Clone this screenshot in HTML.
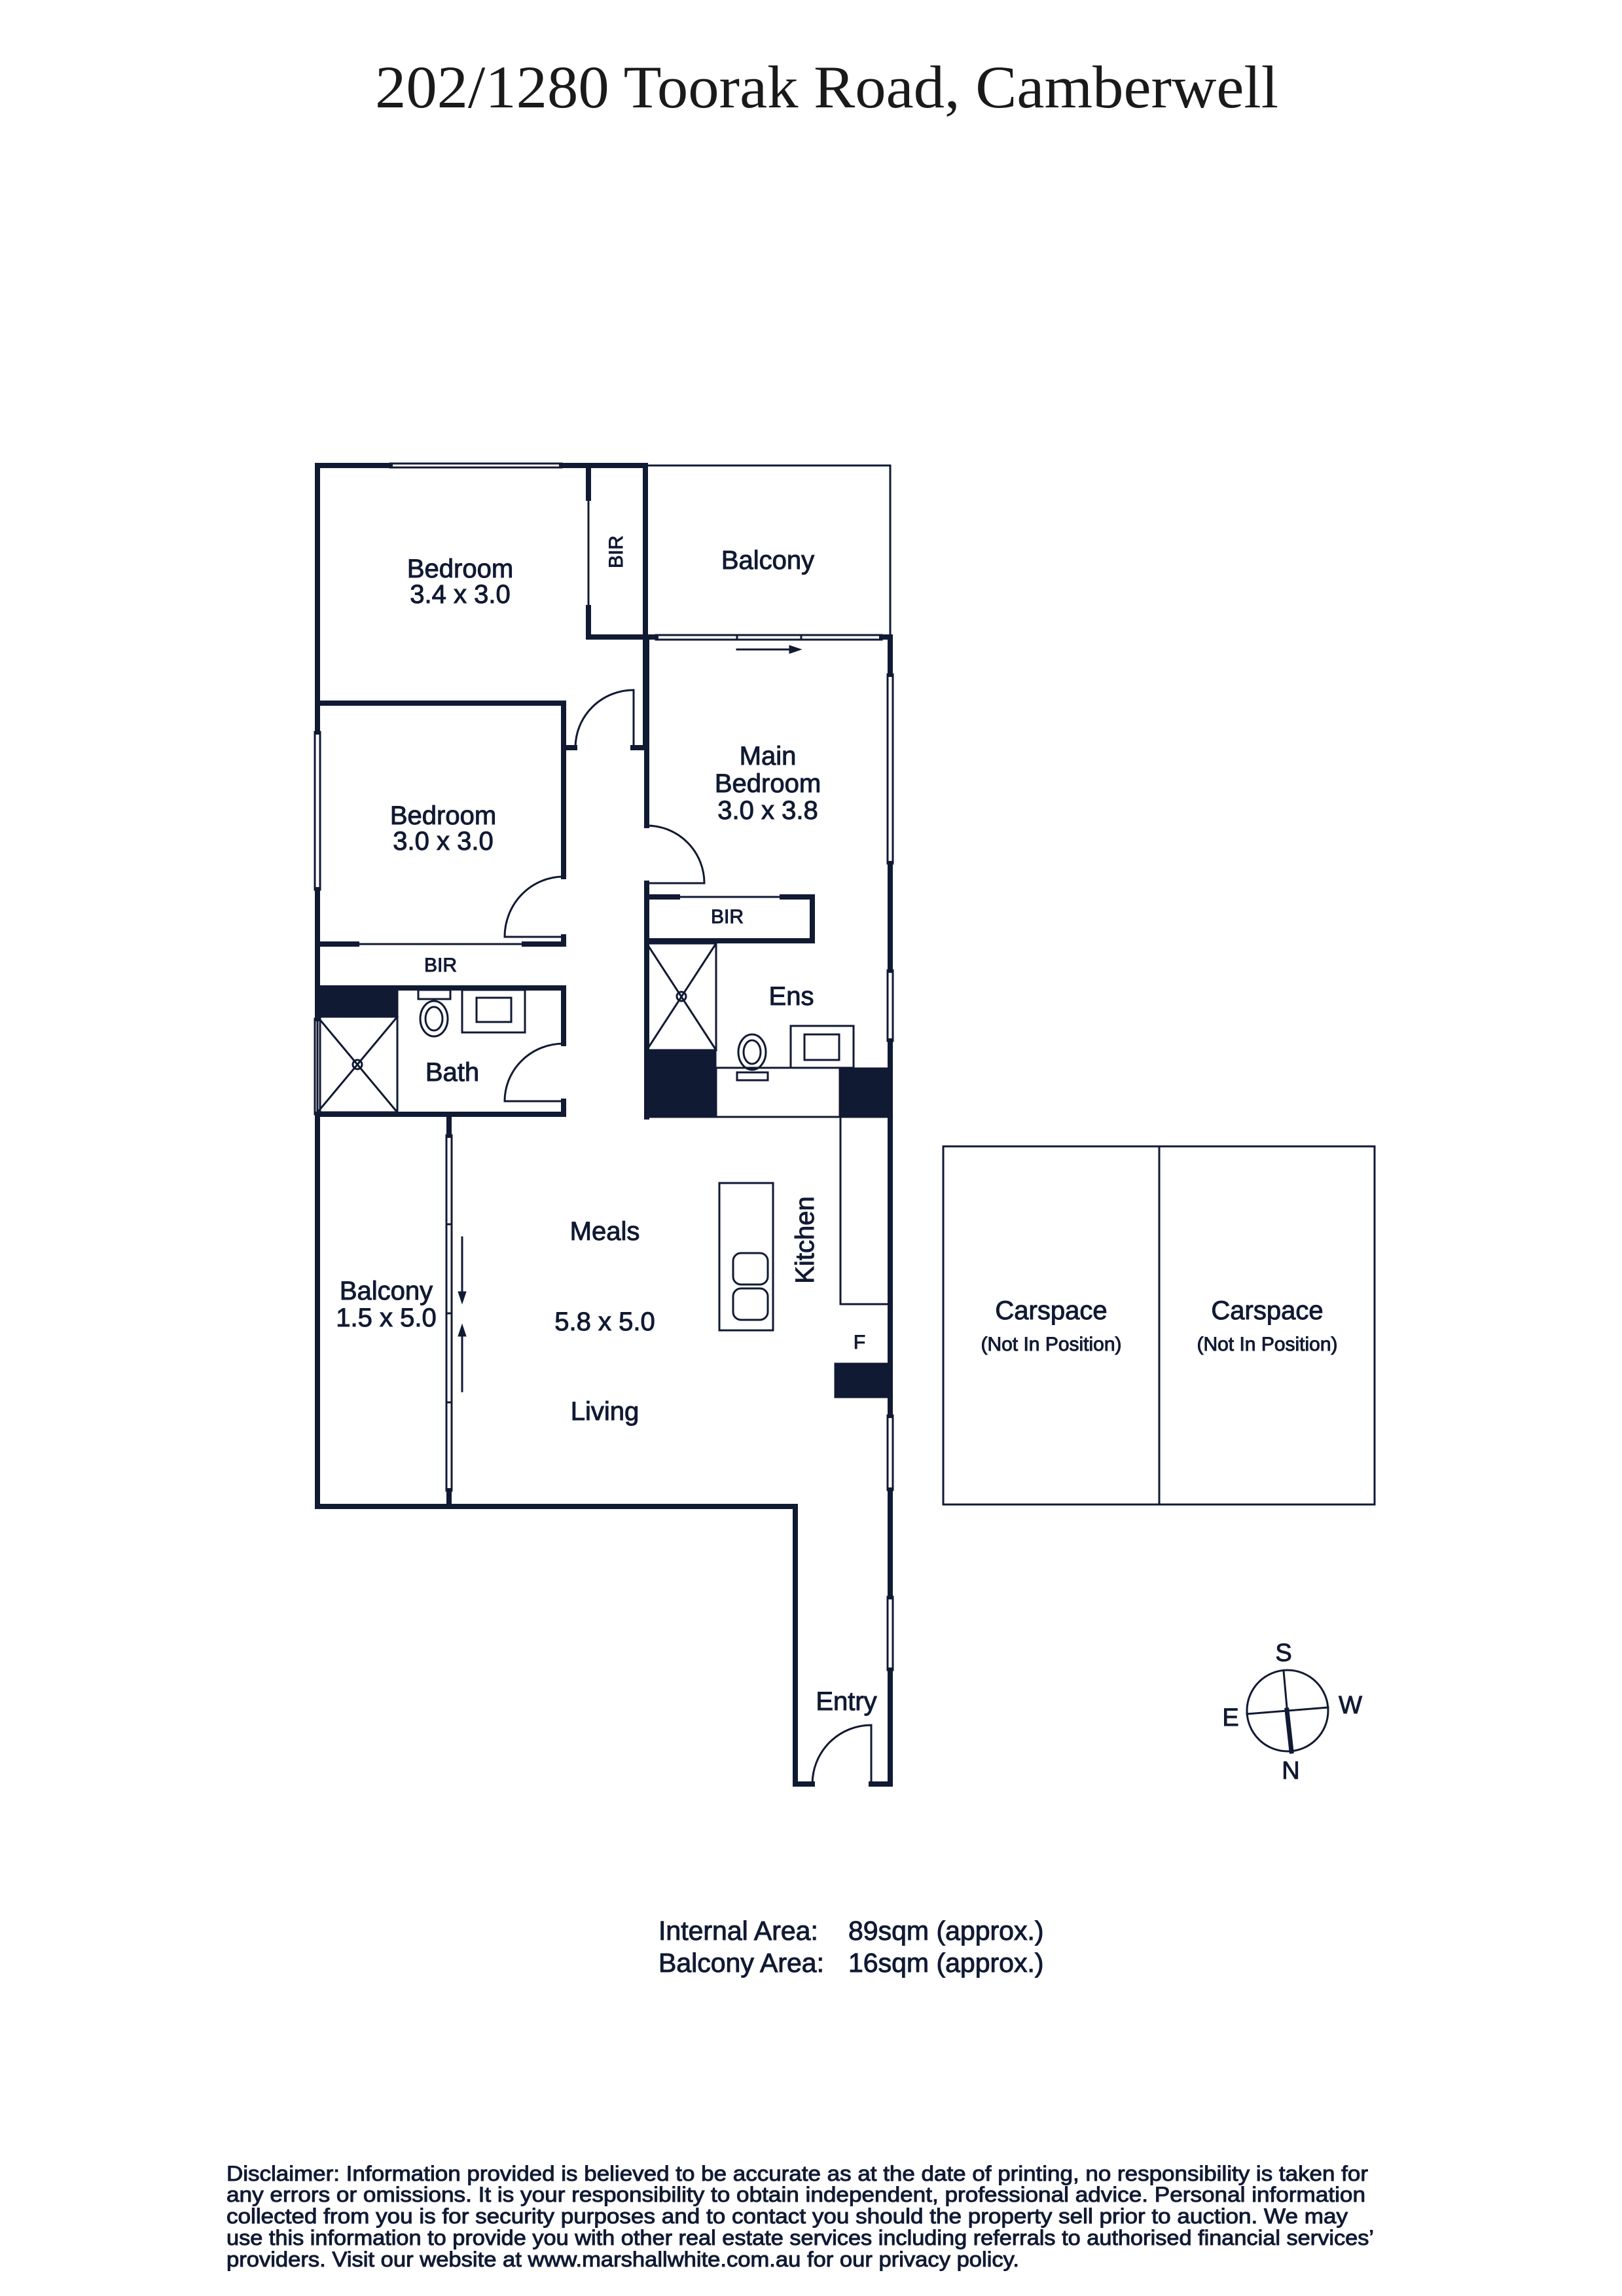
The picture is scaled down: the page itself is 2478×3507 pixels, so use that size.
<!DOCTYPE html>
<html><head><meta charset="utf-8"><style>
html,body{margin:0;padding:0;background:#fff}
svg{display:block}
text{font-family:"Liberation Sans",sans-serif;fill:#111a33}
</style></head><body>
<svg width="2478" height="3507" viewBox="0 0 2478 3507" xmlns="http://www.w3.org/2000/svg">
<rect width="2478" height="3507" fill="#fff"/>
<text x="1263" y="164" text-anchor="middle" style="font-family:'Liberation Serif',serif;font-size:92px;fill:#1a1a1a" textLength="1380" lengthAdjust="spacingAndGlyphs">202/1280 Toorak Road, Camberwell</text>

<g stroke="#111a33" fill="none" stroke-linecap="square">
<g stroke-width="8">
<path d="M485 711 V1118 M485 1359 V1556 M485 1702 V2301 H1215 V2725 H1241"/>
<path d="M1331 2725 H1360 V2551 M1360 2439 V2276 M1360 2162 V1590 M1360 1482 V1319 M1360 1030 V973 H1347"/>
<path d="M485 711 H596 M858 711 H986 V1142 H967"/>
<path d="M986 973 H1002"/>
<path d="M899 711 V761 M899 928 V973 H986"/>
<path d="M861 1142 H878 M861 1074 H485 M861 1074 V1339"/>
<path d="M988 1261 V973 M988 1349 V1706"/>
<path d="M988 1370 H1035 M1195 1370 H1241 V1437 H988"/>
<path d="M485 1442 H545 M801 1442 H861 V1431 M861 1509 V1594 M861 1682 V1702 H485 M485 1509 H861"/>
<path d="M686 1702 V1734 M686 2277 V2301"/>
</g>
<g stroke-width="3">
<path d="M899 761 V928"/>
<path d="M986 711 H1360 V973"/>
<path d="M1035 1370 H1195"/>
<path d="M545 1442 H801"/>
<path d="M607 1509 V1702"/>
<path d="M988 1706 H1283"/>
<rect x="1284" y="1706" width="76" height="286"/>
<rect x="1099" y="1807" width="82" height="225"/>
<rect x="1120" y="1914" width="53" height="48" rx="12"/>
<rect x="1120" y="1968" width="53" height="48" rx="12"/>
<rect x="1441" y="1751" width="659" height="547"/>
<path d="M1771 1751 V2298"/>
<path d="M879 1142 A89 88 0 0 1 968 1054 V1142"/>
<path d="M988 1261 A88 88 0 0 1 1076 1349 H988"/>
<path d="M861 1339 A90 92 0 0 0 771 1431 H861"/>
<path d="M861 1594 A90 88 0 0 0 771 1682 H861"/>
<path d="M1241 2725 A90 90 0 0 1 1331 2635 V2725"/>
<rect x="596" y="708" width="262" height="6"/>
<rect x="481" y="1118" width="8" height="241"/>
<rect x="481" y="1556" width="8" height="146"/>
<rect x="1356" y="1030" width="8" height="289"/>
<rect x="1356" y="1482" width="8" height="108"/>
<rect x="1356" y="2162" width="8" height="114"/>
<rect x="1356" y="2439" width="8" height="112"/>
<rect x="1002" y="970" width="345" height="7"/>
<path d="M1126 970 V977 M1224 970 V977"/>
<rect x="682" y="1734" width="8" height="543"/>
<path d="M682 1870 H690 M682 2006 H690 M682 2142 H690"/>
<rect x="485" y="1553" width="122" height="146"/>
<path d="M485 1553 L607 1699 M607 1553 L485 1699"/>
<circle cx="546" cy="1626" r="7"/>
<rect x="988" y="1441" width="106" height="163"/>
<path d="M988 1441 L1094 1604 M1094 1441 L988 1604"/>
<circle cx="1041" cy="1522" r="7"/>
<rect x="639" y="1512" width="49" height="14"/>
<ellipse cx="663" cy="1556" rx="21" ry="27"/>
<ellipse cx="663" cy="1556" rx="13" ry="18"/>
<rect x="706" y="1512" width="96" height="65"/>
<rect x="728" y="1524" width="53" height="37"/>
<rect x="1126" y="1638" width="47" height="12"/>
<ellipse cx="1149" cy="1607" rx="21" ry="27"/>
<ellipse cx="1149" cy="1607" rx="13" ry="18"/>
<rect x="1208" y="1567" width="96" height="64"/>
<rect x="1229" y="1580" width="53" height="39"/>
<rect x="1094" y="1631" width="189" height="75"/>
<path d="M1126 992 H1210 M706 1890 V1980 M706 2125 V2035"/>
</g>
<g fill="#111a33">
<path d="M1224 992 L1206 986 V998 Z"/>
<path d="M706 1991 L700 1973 H712 Z"/>
<path d="M706 2023 L700 2041 H712 Z"/>
<rect x="485" y="1509" width="122" height="44"/>
<rect x="988" y="1604" width="106" height="102"/>
<rect x="1283" y="1631" width="77" height="75"/>
<rect x="1275" y="2082" width="85" height="53"/>
</g>

<g font-size="40" text-anchor="middle">
<text x="703" y="882">Bedroom</text><text x="703" y="921">3.4 x 3.0</text>
<text x="1173" y="869">Balcony</text>
<text x="1173" y="1168">Main</text><text x="1173" y="1210">Bedroom</text><text x="1173" y="1251">3.0 x 3.8</text>
<text x="677" y="1259">Bedroom</text><text x="677" y="1298">3.0 x 3.0</text>
<text x="1209" y="1535">Ens</text>
<text x="691" y="1651">Bath</text>
<text x="924" y="1894">Meals</text>
<text x="924" y="2032">5.8 x 5.0</text>
<text x="924" y="2169">Living</text>
<text x="590" y="1985">Balcony</text><text x="590" y="2026">1.5 x 5.0</text>
<text x="1293" y="2612">Entry</text>
<text x="1606" y="2015">Carspace</text><text x="1936" y="2015">Carspace</text>
<text transform="translate(1243 1894) rotate(-90)">Kitchen</text>
</g>
<g font-size="30" text-anchor="middle">
<text x="1111" y="1410">BIR</text>
<text x="673" y="1484">BIR</text>
<text transform="translate(951 843) rotate(-90)">BIR</text>
<text x="1313" y="2060">F</text>
<text x="1606" y="2063">(Not In Position)</text>
<text x="1936" y="2063">(Not In Position)</text>
</g>

<g stroke="#111a33" fill="none">
<circle cx="1967" cy="2613" r="62" stroke-width="3"/>
<path d="M1961 2552 L1972 2675 M1905 2618 L2029 2608" stroke-width="3"/>
<path d="M1966 2612 L1973 2675" stroke-width="7"/>
</g>
<g font-size="38" text-anchor="middle">
<text x="1961" y="2537">S</text><text x="1972" y="2717">N</text>
<text x="1880" y="2636">E</text><text x="2063" y="2617">W</text>
</g>

<g font-size="41">
<text x="1006" y="2963">Internal Area:</text><text x="1296" y="2963">89sqm (approx.)</text>
<text x="1006" y="3012">Balcony Area:</text><text x="1296" y="3012">16sqm (approx.)</text>
</g>
<g font-size="32">
<text x="346" y="3331" textLength="1744" lengthAdjust="spacingAndGlyphs">Disclaimer: Information provided is believed to be accurate as at the date of printing, no responsibility is taken for</text>
<text x="346" y="3363" textLength="1740" lengthAdjust="spacingAndGlyphs">any errors or omissions. It is your responsibility to obtain independent, professional advice. Personal information</text>
<text x="346" y="3396" textLength="1713" lengthAdjust="spacingAndGlyphs">collected from you is for security purposes and to contact you should the property sell prior to auction. We may</text>
<text x="346" y="3429" textLength="1753" lengthAdjust="spacingAndGlyphs">use this information to provide you with other real estate services including referrals to authorised financial services’</text>
<text x="346" y="3462" textLength="1211" lengthAdjust="spacingAndGlyphs">providers. Visit our website at www.marshallwhite.com.au for our privacy policy.</text>
</g>
</svg>
</body></html>
